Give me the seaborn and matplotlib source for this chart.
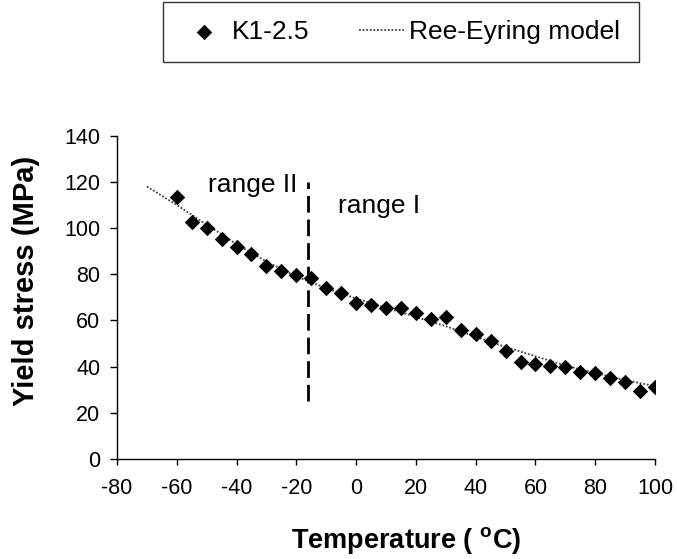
import matplotlib
matplotlib.use("Agg")
import matplotlib.pyplot as plt
import seaborn as sns
import pandas as pd

# ---- data ----
temp_exp = [-60, -55, -50, -45, -40, -35, -30, -25, -20, -15, -10, -5, 0, 5, 10, 15,
            20, 25, 30, 35, 40, 45, 50, 55, 60, 65, 70, 75, 80, 85, 90, 95, 100]
stress_exp = [113.5, 102.7, 99.9, 95.2, 91.6, 88.7, 83.5, 81.4, 79.7, 78.2, 73.9, 71.7,
              67.7, 66.7, 65.2, 65.3, 63.1, 60.5, 61.6, 55.8, 54.0, 51.1, 46.9, 42.1,
              41.1, 40.3, 40.0, 37.5, 37.1, 34.9, 33.5, 29.6, 31.0]
temp_model = [-70, -60, -50, -40, -30, -20, -15, -10, 0, 10, 20, 30, 40, 50, 60, 70, 80, 90, 100]
stress_model = [118, 110, 101.5, 93, 85.5, 79, 76.5, 74, 69.5, 65.5, 61.5, 57.5, 53,
                48.5, 44.5, 40.5, 37.2, 34.2, 31.5]
divider_x = -16
divider_y = [25, 120]
x_ticks = [-80, -60, -40, -20, 0, 20, 40, 60, 80, 100]
y_ticks = [0, 20, 40, 60, 80, 100, 120, 140]
label_exp = "K1-2.5"
label_model = "Ree-Eyring model"
range_labels = ["range II", "range I"]
range_pos = [(-49.6, 115.6), (-6.0, 106.5)]

df_exp = pd.DataFrame({"T": temp_exp, "S": stress_exp})
df_mod = pd.DataFrame({"T": temp_model, "S": stress_model})

sns.set_style("ticks")
plt.rcParams["font.family"] = ["Liberation Sans", "DejaVu Sans"]
plt.rcParams["axes.unicode_minus"] = False
plt.rcParams["text.color"] = "black"
plt.rcParams["axes.labelcolor"] = "black"
plt.rcParams["xtick.color"] = "black"
plt.rcParams["ytick.color"] = "black"
plt.rcParams["axes.edgecolor"] = "black"

fig = plt.figure(figsize=(6.77, 5.59), dpi=100)
ax = fig.add_axes([117 / 677, 1 - 459 / 559, (655 - 117) / 677, (459 - 135.7) / 559])

sns.lineplot(data=df_mod, x="T", y="S", ax=ax, color="#444444", lw=1.3,
             linestyle=(0, (1, 1)), label=label_model, legend=False, zorder=2)
sns.scatterplot(data=df_exp, x="T", y="S", ax=ax, marker="D", s=62, color="black",
                edgecolor="black", linewidth=0, label=label_exp, legend=False, zorder=3)

ax.vlines(divider_x, divider_y[0], divider_y[1], colors="black", linestyles=(0, (6, 2.5)), lw=2.0)

for txt, (tx, ty) in zip(range_labels, range_pos):
    ax.text(tx, ty, txt, fontsize=19, va="baseline", ha="left", color="black")

ax.set_xlim(-80, 100)
ax.set_ylim(0, 140)
ax.set_xticks(x_ticks)
ax.set_yticks(y_ticks)
ax.tick_params(axis="both", labelsize=15.5, width=1, direction="out", color="black",
               labelcolor="black")
ax.tick_params(axis="x", length=4.5, pad=9)
ax.tick_params(axis="y", length=5, pad=7)
ax.set_xlabel("Temperature ( $^{\\mathregular{o}}$C)", fontsize=19.5, fontweight="bold",
              va="center", ha="center", color="black")
ax.xaxis.set_label_coords((406 - 117) / 538, (459 - 540) / 323)
ax.set_ylabel("Yield stress (MPa)", fontsize=21, fontweight="bold", va="center", ha="center",
              color="black")
ax.yaxis.set_label_coords((26 - 117) / 538, (459 - 281) / 323)
for sp in ["top", "right"]:
    ax.spines[sp].set_visible(False)
for sp in ["left", "bottom"]:
    ax.spines[sp].set_color("black")
    ax.spines[sp].set_linewidth(1.0)

handles, labels = ax.get_legend_handles_labels()
order = [labels.index(label_exp), labels.index(label_model)]
leg = fig.legend([handles[i] for i in order], [labels[i] for i in order],
                 loc="center", bbox_to_anchor=(401 / 677, 1 - 32 / 559), ncol=2,
                 fontsize=19, frameon=True, fancybox=False, edgecolor="black",
                 handlelength=1.7, handletextpad=0.2, columnspacing=1.9,
                 borderpad=0.7, markerscale=1.0, labelcolor="black")
leg.get_frame().set_linewidth(1.0)

fig.savefig("out.png", dpi=100)
